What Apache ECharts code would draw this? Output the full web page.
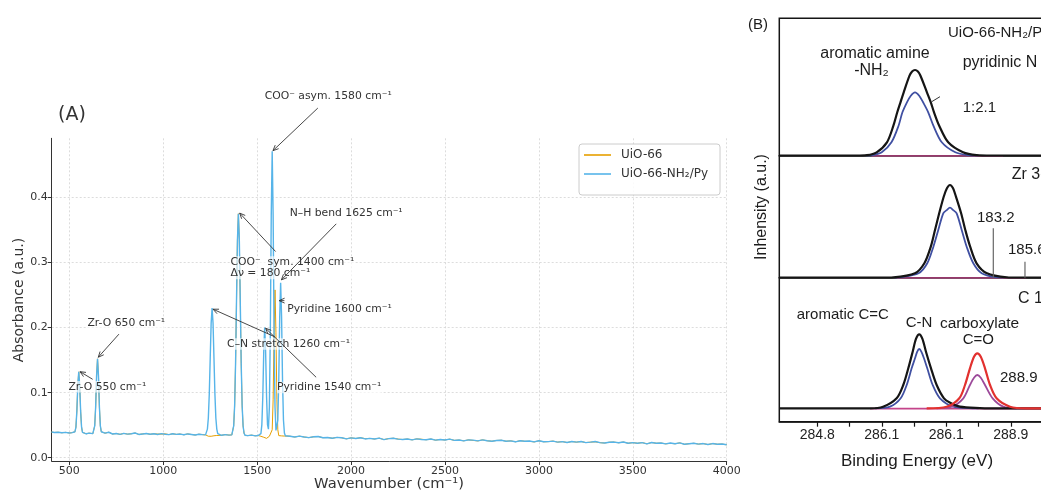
<!DOCTYPE html>
<html><head><meta charset="utf-8">
<script src="https://cdn.jsdelivr.net/npm/echarts@6/dist/echarts.min.js"></script>
<style>html,body{margin:0;padding:0;background:#fff;}#c{width:1041px;height:492px;}</style>
</head><body><div id="c"></div>
<script>
// ---------- (A) FT-IR spectrum data ----------
const wavenumber = [405,420,440,460,480,500,515,
 525,530,535,540,545,550,555,560,565,570,575,
 590,605,615,
 625,630,635,640,645,650,655,660,665,670,675,
 690,710,730,750,770,790,810,830,850,870,890,910,930,950,970,990,1010,1030,1050,1070,1090,1110,1130,1150,1170,1190,1210,
 1225,1230,1235,1240,1245,1250,1255,1260,1265,1270,1275,1280,1285,1290,1295,
 1310,1330,1350,
 1365,1370,1375,1380,1385,1390,1395,1400,1405,1410,1415,1420,1425,1430,1435,
 1450,1470,1490,
 1505,1510,1515,1520,1525,1530,1535,1540,1545,1550,1555,1560,1565,1570,1575,1580,1585,1590,1595,1600,1605,1610,1615,1620,1625,1630,1635,1640,1645,1650,1655,
 1675,1700,1725,1750,1775,1800,1825,1850,1875,1900,1925,1950,1975,2000,
 2025,2050,2075,2100,2125,2150,2175,2200,2225,2250,2275,2300,2325,2350,2375,2400,2425,2450,2475,2500,
 2525,2550,2575,2600,2625,2650,2675,2700,2725,2750,2775,2800,2825,2850,2875,2900,2925,2950,2975,3000,
 3025,3050,3075,3100,3125,3150,3175,3200,3225,3250,3275,3300,3325,3350,3375,3400,3425,3450,3475,3500,
 3525,3550,3575,3600,3625,3650,3675,3700,3725,3750,3775,3800,3825,3850,3875,3900,3925,3950,3975,4000];

const absUiO66NH2Py = [0.0395,0.0388,0.0392,0.0384,0.0390,0.0381,0.0386,
 0.0383,0.040,0.047,0.072,0.111,0.132,0.111,0.072,0.047,0.039,0.0372,
 0.0368,0.0378,0.0366,
 0.037,0.039,0.049,0.078,0.126,0.152,0.126,0.078,0.049,0.040,0.0375,
 0.0378,0.0392,0.0365,0.0372,0.0360,0.0374,0.0363,0.0369,0.0380,0.0358,0.0366,0.0372,0.0361,0.0368,0.0357,0.0370,0.0362,0.0355,0.0368,0.0359,0.0364,0.0353,0.0366,0.0358,0.0350,0.0362,0.0355,
 0.0352,0.037,0.044,0.061,0.098,0.153,0.207,0.230,0.207,0.153,0.098,0.061,0.044,0.037,0.0350,
 0.0345,0.0356,0.0348,
 0.0352,0.038,0.049,0.080,0.145,0.241,0.335,0.375,0.335,0.241,0.145,0.080,0.049,0.038,0.0345,
 0.0340,0.0348,0.0337,
 0.0342,0.0336,0.0344,0.037,0.051,0.094,0.163,0.200,0.163,0.094,0.051,0.044,0.078,0.191,0.373,0.471,0.373,0.191,0.078,0.042,0.039,0.058,0.119,0.216,0.269,0.216,0.119,0.058,0.038,0.0338,0.0335,
 0.0331,0.0319,0.0332,0.0319,0.0309,0.0322,0.0327,0.0308,0.0311,0.0300,0.0313,0.0307,0.0291,0.0306,
 0.0296,0.0308,0.0289,0.0297,0.0289,0.0301,0.0279,0.0294,0.0300,0.0287,0.0280,0.0288,0.0275,0.0290,0.0281,0.0276,0.0288,0.0270,0.0281,0.0273,
 0.0286,0.0267,0.0272,0.0260,0.0275,0.0271,0.0259,0.0275,0.0261,0.0254,0.0266,0.0269,0.0254,0.0260,0.0245,0.0262,0.0253,0.0258,0.0243,0.0261,
 0.0245,0.0248,0.0256,0.0240,0.0248,0.0234,0.0249,0.0240,0.0249,0.0233,0.0240,0.0250,0.0232,0.0227,0.0239,0.0241,0.0230,0.0242,0.0223,0.0232,
 0.0223,0.0233,0.0214,0.0234,0.0223,0.0226,0.0214,0.0226,0.0215,0.0229,0.0207,0.0216,0.0222,0.0210,0.0218,0.0203,0.0218,0.0208,0.0211,0.0199];

const absUiO66 = [0.0395,0.0388,0.0392,0.0384,0.0390,0.0381,0.0386,
 0.0383,0.040,0.047,0.072,0.111,0.132,0.111,0.072,0.047,0.039,0.0372,
 0.0368,0.0378,0.0366,
 0.037,0.039,0.049,0.078,0.126,0.152,0.126,0.078,0.049,0.040,0.0375,
 0.0378,0.0392,0.0365,0.0372,0.0360,0.0374,0.0363,0.0369,0.0380,0.0358,0.0366,0.0372,0.0361,0.0368,0.0365,0.0362,0.0368,0.0355,0.0368,0.0359,0.0364,0.0353,0.0366,0.0358,0.0350,0.0362,0.0355,
 0.0352,0.0343,0.0336,0.0331,0.0333,0.0337,0.0330,0.0327,0.0333,0.0338,0.0331,0.0336,0.0342,0.0346,0.0350,
 0.0345,0.0356,0.0348,
 0.0352,0.038,0.049,0.080,0.145,0.241,0.335,0.375,0.335,0.241,0.145,0.080,0.049,0.038,0.0345,
 0.0340,0.0348,0.0337,
 0.0342,0.0337,0.0338,0.0330,0.0328,0.0322,0.0315,0.0305,0.0300,0.0298,0.0305,0.0318,0.0330,0.0335,0.0340,0.043,0.089,0.192,0.258,0.192,0.089,0.043,0.0340,0.0335,0.0332,0.0336,0.0330,0.0334,0.0333,0.0336,0.0335,
 0.0331,0.0319,0.0332,0.0319,0.0309,0.0322,0.0327,0.0308,0.0311,0.0300,0.0313,0.0307,0.0291,0.0306,
 0.0296,0.0308,0.0294,0.0297,0.0289,0.0301,0.0279,0.0294,0.0300,0.0287,0.0280,0.0288,0.0275,0.0290,0.0285,0.0276,0.0288,0.0270,0.0281,0.0273,
 0.0286,0.0267,0.0272,0.0260,0.0275,0.0266,0.0259,0.0275,0.0261,0.0254,0.0266,0.0269,0.0254,0.0260,0.0245,0.0262,0.0253,0.0253,0.0243,0.0261,
 0.0245,0.0248,0.0256,0.0240,0.0248,0.0234,0.0249,0.0240,0.0249,0.0233,0.0240,0.0244,0.0232,0.0227,0.0239,0.0241,0.0230,0.0242,0.0223,0.0232,
 0.0223,0.0233,0.0214,0.0234,0.0223,0.0226,0.0214,0.0221,0.0215,0.0229,0.0207,0.0216,0.0222,0.0210,0.0218,0.0203,0.0218,0.0208,0.0211,0.0199];

const irSeriesNames = ['UiO-66', 'UiO-66-NH\u2082/Py'];
const irXTicks = [500,1000,1500,2000,2500,3000,3500,4000];
const irYTicks = [0.0,0.1,0.2,0.3,0.4];

const irAnnotations = [
  { label: 'COO\u207B asym. 1580 cm\u207B\u00B9', at: [1540, 0.555], from: [1823, 0.5375], to: [1584, 0.472] },
  { label: 'N\u2013H bend 1625 cm\u207B\u00B9', at: [1673, 0.376], from: [1921, 0.3595], to: [1629, 0.2734] },
  { label: 'COO\u207B  sym. 1400 cm\u207B\u00B9\n\u0394\u03BD = 180 cm\u207B\u00B9', at: [1358, 0.292], from: [1598, 0.317], to: [1407, 0.376] },
  { label: 'Pyridine 1600 cm\u207B\u00B9', at: [1660, 0.2288], from: [1645, 0.2415], to: [1617, 0.2415] },
  { label: 'C\u2013N stretch 1260 cm\u207B\u00B9', at: [1340, 0.175], from: [1593, 0.186], to: [1265, 0.2283] },
  { label: 'Pyridine 1540 cm\u207B\u00B9', at: [1605, 0.108], from: [1814, 0.1237], to: [1545, 0.199] },
  { label: 'Zr-O 650 cm\u207B\u00B9', at: [596, 0.2068], from: [764, 0.190], to: [654, 0.1545] },
  { label: 'Zr-O 550 cm\u207B\u00B9', at: [495, 0.109], from: [624, 0.1206], to: [557, 0.1323] }
];

// ---------- (B) XPS panels data (x in tick-index units, y in a.u.) ----------
const xpsTickPositions = [1, 1.5, 2, 2.5, 3, 3.5, 4];
const xpsLabelPositions = [1, 2, 3, 4];
const xpsTickLabels = ['284.8', '286.1', '286.1', '288.9'];

const n1sEnvelope = [[0.41,0],[1.60,0],[1.77,0.5],[1.92,3.4],[2.08,13.4],[2.18,30],[2.24,43.4],[2.29,53.4],[2.34,63.4],[2.43,80],[2.47,84.2],[2.515,85.7],[2.56,84.2],[2.60,80],[2.70,63.4],[2.76,53.4],[2.81,43.4],[2.89,30],[3.03,13.4],[3.26,3.4],[3.47,0.5],[3.70,0],[4.55,0]];
const n1sComponent = [[1.75,0],[1.85,0.4],[2.0,3.4],[2.15,13.4],[2.26,30],[2.32,43.4],[2.39,53.4],[2.45,60],[2.515,63.4],[2.58,60],[2.64,53.4],[2.72,43.4],[2.80,30],[2.93,13.4],[3.14,3.4],[3.35,0.4],[3.5,0]];
const n1sBackground = [[1.84,-0.5],[3.88,-0.5]];
const n1sRatioLeader = [[2.774,54],[2.902,59]];

const zr3dEnvelope = [[0.41,0],[2.0,0],[2.18,0.3],[2.515,4.4],[2.66,14.4],[2.76,31],[2.825,47.7],[2.89,64.4],[2.96,81],[3.01,89.5],[3.057,92.7],[3.105,89.5],[3.15,81],[3.23,64.4],[3.295,47.7],[3.37,31],[3.47,14.4],[3.63,4.4],[3.94,0.3],[4.1,0],[4.55,0]];
const zr3dComponent = [[2.2,0],[2.28,0.3],[2.57,4.4],[2.705,14.4],[2.80,31],[2.876,47.7],[2.953,64.4],[3.007,67.6],[3.057,70],[3.107,67.6],[3.161,64.4],[3.239,47.7],[3.316,31],[3.419,14.4],[3.549,4.4],[3.78,0.3],[3.9,0]];
const zr3dBackground = [[2.23,-0.5],[4.24,-0.5]];
const zr3dMarker1832 = [[3.729,0],[3.729,49.4]];
const zr3dMarker1856 = [[4.22,0],[4.22,16]];

const c1sEnvelope = [[0.41,0],[1.82,0],[2.02,1.6],[2.23,10],[2.333,23.3],[2.411,40],[2.479,56.6],[2.53,69.5],[2.581,74],[2.63,69.5],[2.685,56.6],[2.763,40],[2.851,23.3],[2.964,10],[3.06,5.5],[3.21,1.6],[3.52,0.2],[3.7,0],[4.55,0]];
const c1sCN = [[1.9,0],[2.127,1.6],[2.293,10],[2.386,23.3],[2.463,40],[2.515,50],[2.548,56.5],[2.581,59.3],[2.615,56.5],[2.654,50],[2.705,40],[2.789,23.3],[2.902,10],[3.109,1.6],[3.35,0.2],[3.5,0]];
const c1sCarboxylate = [[2.696,0],[3.006,1.6],[3.202,10],[3.29,23.3],[3.367,40],[3.43,51.5],[3.481,55],[3.535,51.5],[3.60,40],[3.678,23.3],[3.78,10],[3.988,1.6],[4.247,0],[4.55,0]];
const c1sCarboxylateComp = [[2.85,0],[3.084,1.6],[3.264,10],[3.367,23.3],[3.43,30.5],[3.481,33.3],[3.535,30.5],[3.60,23.3],[3.719,10],[3.884,1.6],[4.09,0]];
const c1sBackground = [[1.82,-0.3],[4.55,-0.3]];

const xpsAnnotations = [
  { grid: 1, label: 'UiO-66-NH\u2082/Py', at: [3.026, 122.7], align: 'left', size: 15 },
  { grid: 1, label: 'aromatic amine', at: [1.895, 102.4], align: 'center', size: 16 },
  { grid: 1, label: '-NH\u2082', at: [1.84, 84.7], align: 'center', size: 16 },
  { grid: 1, label: 'pyridinic N', at: [3.254, 92.7], align: 'left', size: 16 },
  { grid: 1, label: '1:2.1', at: [3.254, 47.7], align: 'left', size: 15 },
  { grid: 2, label: 'Zr 3d', at: [4.014, 102.7], align: 'left', size: 16 },
  { grid: 2, label: '183.2', at: [3.476, 59.4], align: 'left', size: 15 },
  { grid: 2, label: '185.6', at: [3.957, 27.7], align: 'left', size: 15 },
  { grid: 3, label: 'C 1s', at: [4.112, 110], align: 'left', size: 16 },
  { grid: 3, label: 'aromatic C=C', at: [0.681, 93.3], align: 'left', size: 15 },
  { grid: 3, label: 'C-N', at: [2.371, 85], align: 'left', size: 15 },
  { grid: 3, label: 'carboxylate', at: [2.902, 85], align: 'left', size: 15.5 },
  { grid: 3, label: 'C=O', at: [3.254, 68.3], align: 'left', size: 15 },
  { grid: 3, label: '288.9', at: [3.833, 30], align: 'left', size: 15 }
];

// ---------- styles ----------
const ORANGE = '#E69F00', SKY = '#56B4E9';
const XBLACK = '#151515', XBLUE = '#4050a2', XRED = '#e2312f', XPURPLE = '#9c4a9a', XPINK = '#c4448a';
const DJ = 'DejaVu Sans', LS = 'Liberation Sans';

const pair = (xs, ys) => xs.map((x, i) => [x, ys[i]]);
const chart = echarts.init(document.getElementById('c'), null, { renderer: 'canvas', width: 1041, height: 492 });

const xpsGrid = (top, height) => ({ left: 779.3, right: -5, top, height, show: true, borderColor: XBLACK, borderWidth: 1.5, backgroundColor: 'transparent', containLabel: false, outerBoundsMode: 'none' });
const xpsX = (gi, visible) => ({
  type: 'value', gridIndex: gi, min: 0.411, max: 4.546, show: visible,
  axisLine: { show: true, onZero: false, lineStyle: { color: XBLACK, width: 1.5 } },
  axisTick: { show: true, customValues: xpsTickPositions, length: 5, inside: false, lineStyle: { color: XBLACK, width: 1.2 } },
  axisLabel: { show: true, customValues: xpsLabelPositions, margin: 6, fontFamily: LS, fontSize: 14, color: '#222',
    formatter: v => xpsTickLabels[Math.round(v) - 1] },
  splitLine: { show: false }
});
const xpsY = (gi, min, max) => ({ type: 'value', gridIndex: gi, min, max, show: false, splitLine: { show: false } });
const xpsLine = (ai, data, color, width, smooth, z) => ({
  type: 'line', xAxisIndex: ai, yAxisIndex: ai, data, symbol: 'none', smooth: smooth ? 0.3 : false,
  lineStyle: { color, width, join: 'round' }, z, silent: true, animation: false
});

const option = {
  animation: false,
  backgroundColor: '#ffffff',
  grid: [
    { left: 51.7, right: 314.3, top: 138.3, bottom: 31, containLabel: false, outerBoundsMode: 'none' },
    xpsGrid(18.3, 137.4),
    xpsGrid(155.7, 122),
    xpsGrid(277.7, 144)
  ],
  xAxis: [
    {
      type: 'value', gridIndex: 0, min: 406, max: 4000,
      axisLine: { show: true, onZero: false, lineStyle: { color: '#333', width: 1 } },
      axisTick: { show: true, customValues: irXTicks, length: 4, lineStyle: { color: '#333' } },
      axisLabel: { customValues: irXTicks, margin: 5, fontFamily: DJ, fontSize: 11, color: '#333', formatter: v => String(v) },
      splitLine: { show: true, lineStyle: { color: '#d4d4d4', type: [2, 2], width: 0.8 } }
    },
    xpsX(1, false), xpsX(2, false), xpsX(3, true)
  ],
  yAxis: [
    {
      type: 'value', gridIndex: 0, min: -0.005, max: 0.491,
      axisLine: { show: true, onZero: false, lineStyle: { color: '#333', width: 1 } },
      axisTick: { show: true, customValues: irYTicks, length: 4, lineStyle: { color: '#333' } },
      axisLabel: { customValues: irYTicks, margin: 4, fontFamily: DJ, fontSize: 11, color: '#333', formatter: v => v.toFixed(1) },
      splitLine: { show: true, lineStyle: { color: '#d4d4d4', type: [2, 2], width: 0.8 } }
    },
    xpsY(1, 0, 137.4), xpsY(2, 0, 122), xpsY(3, -13.4, 130.6)
  ],
  legend: {
    data: irSeriesNames, orient: 'vertical', left: 579, top: 144, icon: 'rect',
    itemWidth: 27, itemHeight: 1.6, itemGap: 5, padding: [4, 12, 14, 5],
    borderColor: '#cccccc', borderWidth: 1, borderRadius: 3, backgroundColor: 'rgba(255,255,255,0.85)',
    textStyle: { fontFamily: DJ, fontSize: 12, color: '#333', padding: [0, 0, 0, 5], lineHeight: 14 },
    selectedMode: false
  },
  series: [
    { name: irSeriesNames[0], type: 'line', xAxisIndex: 0, yAxisIndex: 0, data: pair(wavenumber, absUiO66),
      symbol: 'none', smooth: false, lineStyle: { color: ORANGE, width: 1.0 }, itemStyle: { color: ORANGE }, z: 2 },
    { name: irSeriesNames[1], type: 'line', xAxisIndex: 0, yAxisIndex: 0, data: pair(wavenumber, absUiO66NH2Py),
      symbol: 'none', smooth: false, lineStyle: { color: SKY, width: 1.4 }, itemStyle: { color: SKY }, z: 3 },

    xpsLine(1, n1sBackground, XPINK, 1.8, false, 2),
    xpsLine(1, n1sComponent, XBLUE, 1.8, true, 3),
    xpsLine(1, n1sEnvelope, XBLACK, 2.2, true, 4),
    xpsLine(1, n1sRatioLeader, '#333', 1, false, 4),

    xpsLine(2, zr3dBackground, XPINK, 1.8, false, 2),
    xpsLine(2, zr3dComponent, XBLUE, 1.8, true, 3),
    xpsLine(2, zr3dEnvelope, XBLACK, 2.2, true, 4),
    xpsLine(2, zr3dMarker1832, '#666', 1.2, false, 4),
    xpsLine(2, zr3dMarker1856, '#666', 1.2, false, 4),

    xpsLine(3, c1sBackground, XPINK, 1.8, false, 2),
    xpsLine(3, c1sCN, XBLUE, 1.8, true, 3),
    xpsLine(3, c1sCarboxylateComp, XPURPLE, 1.8, true, 3),
    xpsLine(3, c1sEnvelope, XBLACK, 2.2, true, 4),
    xpsLine(3, c1sCarboxylate, XRED, 2.2, true, 5)
  ]
};
chart.setOption(option);

// ---------- annotations positioned through the axes ----------
function toPx(axisIdx, p) { return chart.convertToPixel({ xAxisIndex: axisIdx, yAxisIndex: axisIdx }, p); }
function arrow(p1, p2, color) {
  const ang = Math.atan2(p2[1] - p1[1], p2[0] - p1[0]);
  const L = 6, a = 0.42;
  const h1 = [p2[0] - L * Math.cos(ang - a), p2[1] - L * Math.sin(ang - a)];
  const h2 = [p2[0] - L * Math.cos(ang + a), p2[1] - L * Math.sin(ang + a)];
  return [
    { type: 'line', silent: true, z: 60, shape: { x1: p1[0], y1: p1[1], x2: p2[0], y2: p2[1] }, style: { stroke: color, lineWidth: 0.9 } },
    { type: 'polyline', silent: true, z: 60, shape: { points: [h1, p2, h2] }, style: { stroke: color, lineWidth: 0.9, fill: null } }
  ];
}
function txt(x, y, text, font, align, extra) {
  return Object.assign({ type: 'text', silent: true, z: 55, x, y,
    style: Object.assign({ text, font, fill: '#333', align, verticalAlign: 'middle', textAlign: align, textVerticalAlign: 'middle' }, extra && extra.style || {}) },
    extra && extra.el || {});
}

const graphics = [];
irAnnotations.forEach(a => {
  const p = toPx(0, a.at);
  graphics.push(txt(p[0], p[1], a.label, '10.8px "DejaVu Sans"', 'left',
    { style: { backgroundColor: 'rgba(255,255,255,0.65)', lineHeight: 11.5, fill: '#333' } }));
});
irAnnotations.forEach(a => {
  graphics.push(...arrow(toPx(0, a.from), toPx(0, a.to), '#333'));
});
xpsAnnotations.forEach(a => {
  const p = toPx(a.grid, a.at);
  graphics.push(txt(p[0], p[1], a.label, a.size + 'px "Liberation Sans"', a.align, { style: { fill: '#1c1c1c' } }));
});
// panel titles and axis titles
graphics.push(txt(58, 115, '(A)', '19px "DejaVu Sans"', 'left', { style: { fill: '#333' } }));
graphics.push(txt(389, 484.5, 'Wavenumber (cm\u207B\u00B9)', '14.7px "DejaVu Sans"', 'center', { style: { fill: '#333' } }));
graphics.push(txt(19.5, 300, 'Absorbance (a.u.)', '14px "DejaVu Sans"', 'center', { style: { fill: '#333' }, el: { rotation: Math.PI / 2 } }));
graphics.push(txt(748, 25, '(B)', '15px "Liberation Sans"', 'left', { style: { fill: '#1c1c1c' } }));
graphics.push(txt(917, 461.7, 'Binding Energy (eV)', '17px "Liberation Sans"', 'center', { style: { fill: '#1c1c1c' } }));
graphics.push(txt(761.7, 207, 'Inhensity (a.u.)', '16px "Liberation Sans"', 'center', { style: { fill: '#1c1c1c' }, el: { rotation: Math.PI / 2 } }));

chart.setOption({ graphic: graphics });
</script></body></html>
